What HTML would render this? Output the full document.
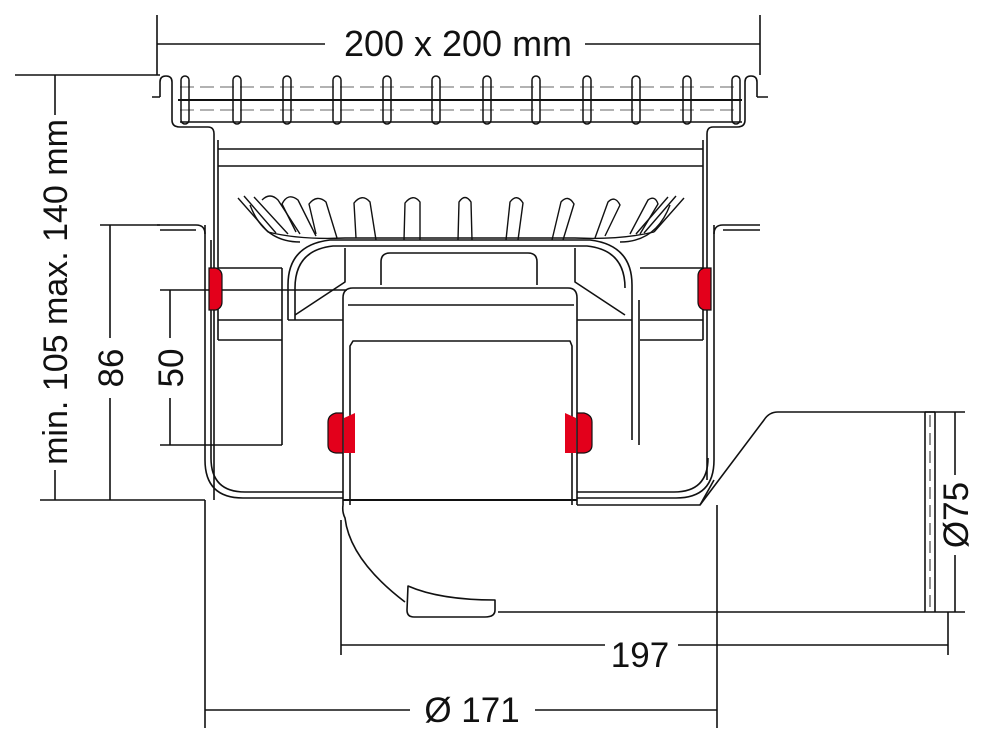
<!DOCTYPE html>
<html><head><meta charset="utf-8"><style>
html,body{margin:0;padding:0;background:#fff}
svg{display:block}
text{font-family:"Liberation Sans",Arial,sans-serif;fill:#111}
</style></head><body>
<svg width="998" height="750" viewBox="0 0 998 750" xmlns="http://www.w3.org/2000/svg">
<g fill="none" stroke="#111" stroke-width="1.6" stroke-linejoin="round">
<!-- top dimension -->
<line x1="157" y1="15" x2="157" y2="75"/><line x1="760" y1="15" x2="760" y2="75"/>
<line x1="157" y1="44" x2="325" y2="44"/><line x1="585" y1="44" x2="760" y2="44"/>
<!-- grate -->
<path d="M160 97 V82 Q160 76 166 76 Q172 76 172 82 V120 Q172 127 180 127 H208 Q214 127 214 134 V500"/>
<path d="M757 97 V82 Q757 76 751 76 Q745 76 745 82 V120 Q745 127 737 127 H713 Q707 127 707 134 V480"/>
<path d="M152 97 H160 M757 97 H768"/>
<line x1="178" y1="100" x2="742" y2="100" stroke-width="2"/>
<line x1="180" y1="87" x2="740" y2="87" stroke="#999" stroke-dasharray="14 6"/>
<line x1="180" y1="110" x2="740" y2="110" stroke="#999" stroke-dasharray="14 6"/>
<line x1="180" y1="122" x2="742" y2="122"/>
<g stroke-width="1.5">
<rect x="181" y="76" width="8" height="48" rx="4"/><rect x="233" y="76" width="8" height="48" rx="4"/>
<rect x="283" y="76" width="8" height="48" rx="4"/><rect x="333" y="76" width="8" height="48" rx="4"/>
<rect x="383" y="76" width="8" height="48" rx="4"/><rect x="432" y="76" width="8" height="48" rx="4"/>
<rect x="483" y="76" width="8" height="48" rx="4"/><rect x="532" y="76" width="8" height="48" rx="4"/>
<rect x="583" y="76" width="8" height="48" rx="4"/><rect x="632" y="76" width="8" height="48" rx="4"/>
<rect x="683" y="76" width="8" height="48" rx="4"/><rect x="732" y="76" width="8" height="48" rx="4"/>
</g>
<!-- upper band -->
<line x1="218" y1="149" x2="703" y2="149"/><line x1="218" y1="166" x2="703" y2="166"/>
<line x1="218" y1="140" x2="218" y2="340"/><line x1="703" y1="140" x2="703" y2="340"/>
<!-- basket fins -->
<g stroke-width="1.4">
<path d="M238 198 L268 232 M244 196 L276 233 M254 197 L288 234"/>
<path d="M262 200 Q270 192 278 200 L300 234"/>
<path d="M296 232 L282 204 Q288 192 298 200 L316 236"/>
<path d="M316 234 L309 204 Q317 194 326 202 L337 238"/>
<path d="M356 238 L354 203 Q362 193 370 202 L376 240"/>
<path d="M404 240 L405 203 Q413 193 420 202 L420 240"/>
<path d="M458 240 L459 202 Q465 193 471 202 L472 240"/>
<path d="M506 240 L510 202 Q517 193 523 203 L518 240"/>
<path d="M552 240 L561 202 Q568 194 574 204 L563 240"/>
<path d="M595 238 L608 202 Q615 195 620 205 L605 236"/>
<path d="M630 234 L648 200 Q655 195 658 204 L640 234"/>
<path d="M668 197 L636 234 M676 196 L644 233 M684 198 L654 232"/>
<path d="M268 232 Q300 240 345 238 H575 Q620 240 654 232"/>
<path d="M250 205 Q264 242 300 242 M670 205 Q656 242 620 242"/>
</g>
<!-- inner cup -->
<path d="M288 320 V285 Q288 245 330 240 H590 Q632 245 632 285 V440"/>
<path d="M295 320 V288 Q295 250 333 246 H587 Q625 250 625 288"/>
<path d="M288 320 H343 M577 320 H632"/>
<path d="M295 315 L345 282 V248 M625 315 L575 282 V248"/>
<path d="M381 285 V262 Q381 253 390 253 H528 Q537 253 537 262 V285"/>
<!-- inner tube -->
<path d="M343 505 V298 Q343 288 353 288 H568 Q577 288 577 298 V505"/>
<path d="M348 305 H574"/>
<path d="M350 505 V346 L353 341 H570 L572 346 V505"/>
<line x1="343" y1="500" x2="577" y2="500" stroke-width="2"/>
<!-- outer body -->
<path d="M205 225 V460 Q205 498 243 498 H343"/>
<path d="M211 240 V458 Q211 492 245 492 H343"/>
<path d="M577 498 H676 Q714 498 714 460 V225"/>
<path d="M577 492 H674 Q708 492 708 458"/>
<!-- flanges -->
<path d="M157 225 H196 Q205 225 205 234"/><path d="M160 230 H196"/>
<path d="M714 234 Q714 225 723 225 H760"/><path d="M723 230 H760"/>
<!-- left inner blocks -->
<line x1="218" y1="268" x2="282" y2="268"/>
<line x1="218" y1="320" x2="282" y2="320"/><line x1="218" y1="340" x2="282" y2="340"/>
<line x1="282" y1="268" x2="282" y2="445"/><line x1="222" y1="445" x2="282" y2="445"/>
<line x1="640" y1="268" x2="703" y2="268"/><line x1="640" y1="320" x2="703" y2="320"/>
<line x1="640" y1="340" x2="703" y2="340"/>
<line x1="639" y1="300" x2="639" y2="445"/>
<!-- outlet -->
<path d="M577 505 H700 L764 420 Q769 412 778 412 H935"/>
<path d="M714 480 L700 505"/>
<line x1="925" y1="412" x2="925" y2="612"/><line x1="935" y1="412" x2="935" y2="612"/>
<line x1="930" y1="415" x2="930" y2="610" stroke="#777" stroke-dasharray="12 6"/>
<line x1="498" y1="612" x2="935" y2="612"/>
<!-- flap -->
<path d="M343 505 Q342 512 345 518 Q350 560 405 602"/>
<path d="M408 586 Q440 600 495 600 V610 Q495 617 485 617 H414 Q407 617 407 610 Z"/>
<!-- dims bottom -->
<line x1="341" y1="520" x2="341" y2="655"/><line x1="948" y1="612" x2="948" y2="655"/>
<line x1="341" y1="645" x2="605" y2="645"/><line x1="678" y1="645" x2="948" y2="645"/>
<line x1="205" y1="500" x2="205" y2="728"/><line x1="717" y1="505" x2="717" y2="728"/>
<line x1="205" y1="710" x2="410" y2="710"/><line x1="535" y1="710" x2="717" y2="710"/>
<!-- Ø75 -->
<line x1="925" y1="412" x2="965" y2="412"/><line x1="935" y1="612" x2="965" y2="612"/>
<line x1="955" y1="412" x2="955" y2="475"/><line x1="955" y1="555" x2="955" y2="612"/>
<!-- left dims -->
<line x1="15" y1="75" x2="160" y2="75"/><line x1="40" y1="500" x2="205" y2="500"/>
<line x1="55" y1="75" x2="55" y2="115"/><line x1="55" y1="470" x2="55" y2="500"/>
<line x1="100" y1="225" x2="160" y2="225"/>
<line x1="110" y1="225" x2="110" y2="338"/><line x1="110" y1="398" x2="110" y2="500"/>
<line x1="160" y1="290" x2="347" y2="290"/><line x1="160" y1="445" x2="222" y2="445"/>
<line x1="170" y1="290" x2="170" y2="338"/><line x1="170" y1="398" x2="170" y2="445"/>
</g>
<!-- red seals -->
<g fill="#e3001b" stroke="#111" stroke-width="1.2">
<path d="M209 268 H216 Q222 270 222 276 V302 Q222 308 216 310 H209 Z"/>
<path d="M711 268 H704 Q698 270 698 276 V302 Q698 308 704 310 H711 Z"/>
<path d="M343 413 H336 Q328 415 328 422 V445 Q328 452 336 453 H343 Z"/>
<path d="M577 413 H584 Q592 415 592 422 V445 Q592 452 584 453 H577 Z"/>
</g>
<g fill="#e3001b"><path d="M344 418 L355 413 V453 H344Z"/><path d="M576 418 L565 413 V453 H576Z"/></g>
<!-- text -->
<text x="458" y="56" font-size="36" text-anchor="middle">200 x 200 mm</text>
<text x="640" y="667" font-size="35" text-anchor="middle">197</text>
<text x="472" y="722" font-size="35" text-anchor="middle">Ø 171</text>
<text transform="translate(67,292) rotate(-90)" font-size="34" text-anchor="middle">min. 105 max. 140 mm</text>
<text transform="translate(123,368) rotate(-90)" font-size="35" text-anchor="middle">86</text>
<text transform="translate(183,368) rotate(-90)" font-size="35" text-anchor="middle">50</text>
<text transform="translate(968,515) rotate(-90)" font-size="35" text-anchor="middle">Ø75</text>
</svg>
</body></html>
